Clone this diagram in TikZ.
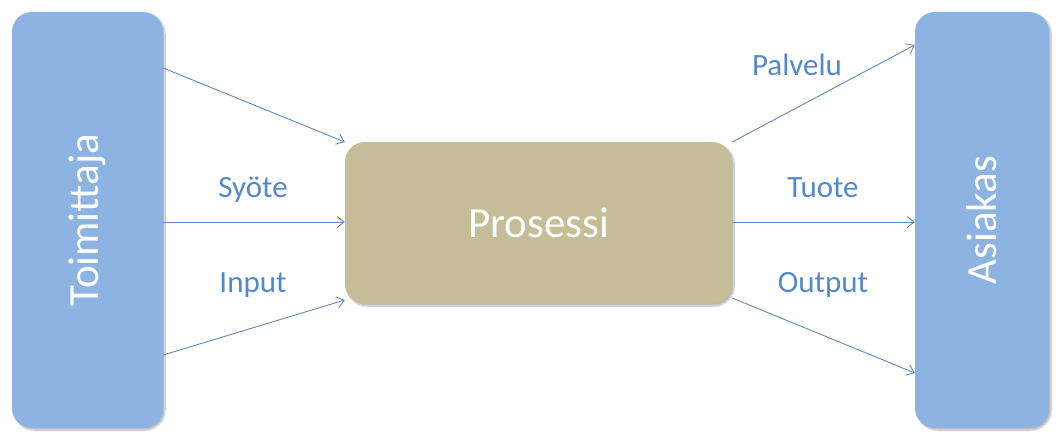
\documentclass[tikz,border=0pt]{standalone}
\usepackage{fontspec}
\setmainfont{Carlito}
\usetikzlibrary{arrows.meta,shadows.blur}
\definecolor{boxblue}{RGB}{141,179,226}
\definecolor{boxtan}{RGB}{196,189,151}
\definecolor{lblblue}{RGB}{84,136,205}
\definecolor{arrblue}{RGB}{100,134,190}
\begin{document}
\begin{tikzpicture}[x=1pt,y=-1pt,
  sidebox/.style={draw=none,fill=boxblue,rounded corners=20pt,inner sep=0pt,
    blur shadow={shadow blur steps=6,shadow xshift=2pt,shadow yshift=-2pt,shadow opacity=30}},
  procbox/.style={draw=none,fill=boxtan,rounded corners=20pt,inner sep=0pt,
    blur shadow={shadow blur steps=6,shadow xshift=2pt,shadow yshift=-2pt,shadow opacity=30}},
  boxtext/.style={text=white,font=\fontsize{43}{50}\selectfont},
  lbl/.style={text=lblblue,font=\fontsize{31}{36}\selectfont},
  arr/.style={draw=arrblue,line width=0.9pt,-{Straight Barb[length=7pt,width=11pt]}}]
\useasboundingbox (0,0) rectangle (1059,436);
\node[sidebox,minimum width=151pt,minimum height=416pt] (L) at (87.5,220) {};
\node[boxtext,rotate=90] (Lt) at (L.center) {Toimittaja};
\node[sidebox,minimum width=134pt,minimum height=416pt] (R) at (982,220) {};
\node[boxtext,rotate=90] (Rt) at (R.center) {Asiakas};
\node[procbox,minimum width=387pt,minimum height=162pt] (P) at (538.5,223) {};
\node[boxtext] (Pt) at (P.center) {Prosessi};
% left connectors
\coordinate (l1) at (L.east |- 0,68);
\coordinate (l2) at (L.east |- 0,222);
\coordinate (l3) at (L.east |- 0,355);
\coordinate (p1) at (P.west |- 0,142);
\coordinate (p2) at (P.west |- 0,222);
\coordinate (p3) at (P.west |- 0,300);
\draw[arr] (l1) -- (p1);
\draw[arr] (l2) -- (p2);
\draw[arr] (l3) -- (p3);
% right connectors
\coordinate (q1) at (P.east |- 0,142);
\coordinate (q2) at (P.east |- 0,222);
\coordinate (q3) at (P.east |- 0,298);
\coordinate (r1) at (R.west |- 0,45);
\coordinate (r2) at (R.west |- 0,222);
\coordinate (r3) at (R.west |- 0,373);
\draw[arr] (q1) -- (r1);
\draw[arr] (q2) -- (r2);
\draw[arr] (q3) -- (r3);
% labels
\node[lbl] (s) at (253,190) {Syöte};
\node[lbl] (i) at (253,285) {Input};
\node[lbl] (pa) at (797,65) {Palvelu};
\node[lbl] (tu) at (823,188) {Tuote};
\node[lbl] (ou) at (823,285) {Output};
\end{tikzpicture}
\end{document}
